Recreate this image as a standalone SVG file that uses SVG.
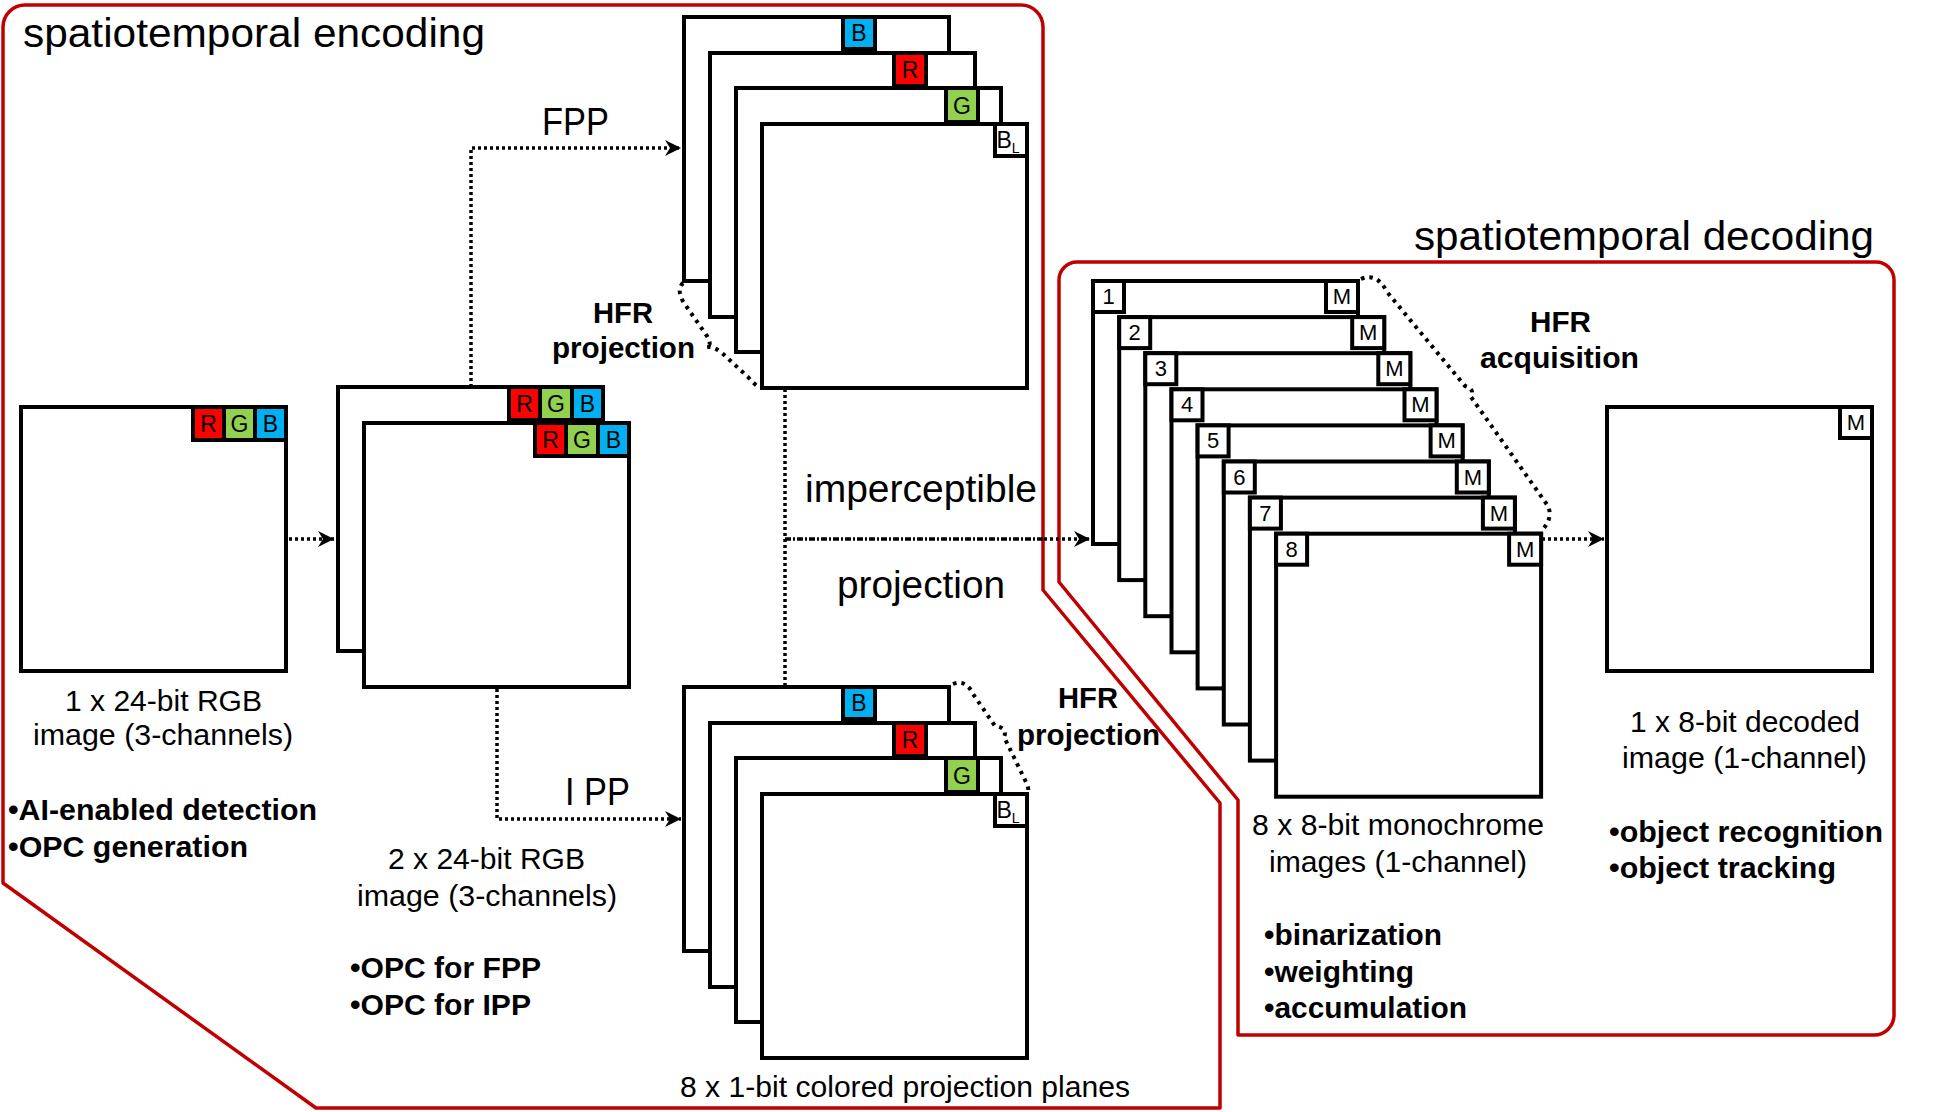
<svg xmlns="http://www.w3.org/2000/svg" width="1944" height="1112" viewBox="0 0 1944 1112">
<style>
text{font-family:"Liberation Sans",Arial,sans-serif;fill:#000}
.reg{font-size:29px}
.bold{font-size:29px;font-weight:bold}
.big{font-size:38px}
.title{font-size:40px}
.cell{font-size:23px;text-anchor:middle}
.small{font-size:22px;text-anchor:middle}
.img{fill:#fff;stroke:#000;stroke-width:4}
.c{stroke:#000;stroke-width:4}
.cw{fill:#fff}
.cr{fill:#ff0000}
.cg{fill:#92d050}
.cb{fill:#00b0f0}
.border{fill:none;stroke:#c00000;stroke-width:3.5;stroke-linejoin:round}
.dot{fill:none;stroke:#000;stroke-width:3.5;stroke-dasharray:3 3}
.dashdot{fill:none;stroke:#000;stroke-width:3.5;stroke-dasharray:6 2 2 2}
.hfr{fill:none;stroke:#000;stroke-width:4;stroke-dasharray:3.5 5;stroke-linecap:butt}
</style>
<defs>
<marker id="arr" markerUnits="userSpaceOnUse" markerWidth="18" markerHeight="18" refX="16" refY="8" orient="auto">
<path d="M0,0 L16,8 L0,16 L5,8 Z" fill="#000"/>
</marker>
</defs>

<g id="borders">
<path class="border" d="M25,5 H1021 A22 22 0 0 1 1043,27 V590 L1220,803 V1108 H316 L3,883 V27 A22 22 0 0 1 25,5 Z"/>
<path class="border" d="M1077,262 H1876 A18 18 0 0 1 1894,280 V1015 A20 20 0 0 1 1874,1035 H1238 V800 L1059,582 V280 A18 18 0 0 1 1077,262 Z"/>
</g>

<g id="titles">
<text class="title" x="23" y="47" textLength="462" lengthAdjust="spacingAndGlyphs">spatiotemporal encoding</text>
<text class="title" x="1414" y="250" textLength="460" lengthAdjust="spacingAndGlyphs">spatiotemporal decoding</text>
</g>

<g id="connectors">
<path class="dot" d="M289,539 H334" marker-end="url(#arr)"/>
<path class="dot" d="M471,387 V148 H681" marker-end="url(#arr)"/>
<path class="dot" d="M497,689 V819 H681" marker-end="url(#arr)"/>
<path class="dot" d="M785,389 V686"/>
<path class="dashdot" d="M785,539 H1044"/>
<path class="dot" d="M1044,539 H1090" marker-end="url(#arr)"/>
<path class="dot" d="M1542,539 H1604" marker-end="url(#arr)"/>
<path class="hfr" d="M683,283 Q676,290 684,303 L707,336 Q713,345 706,347 Q714,346 722,353 L748,377 Q755,385 760,388"/>
<path class="hfr" d="M953,684 Q966,679 973,694 L995,726 Q1008,728 1004,737 L1026,782 Q1029,788 1028,792"/>
<path class="hfr" d="M1361,279 Q1377,272 1387,292 L1465,386 Q1475,389 1471,397 L1548,506 Q1553,518 1543,529"/>
</g>

<g id="node-rgb1">
<rect class="img" x="21" y="407" width="265" height="264"/>
<rect class="c cr" x="193" y="407" width="31" height="33"/>
<rect class="c cg" x="224" y="407" width="31" height="33"/>
<rect class="c cb" x="255" y="407" width="31" height="33"/>
<text class="cell" x="208.5" y="432">R</text>
<text class="cell" x="239.5" y="432">G</text>
<text class="cell" x="270.5" y="432">B</text>
<text class="reg" x="65" y="711" textLength="197" lengthAdjust="spacingAndGlyphs">1 x 24-bit RGB</text>
<text class="reg" x="33" y="745" textLength="260" lengthAdjust="spacingAndGlyphs">image (3-channels)</text>
<text class="bold" x="8" y="820" textLength="309" lengthAdjust="spacingAndGlyphs">•AI-enabled detection</text>
<text class="bold" x="8" y="857" textLength="240" lengthAdjust="spacingAndGlyphs">•OPC generation</text>
</g>

<g id="node-rgb2">
<rect class="img" x="338" y="387" width="265" height="264"/>
<rect class="c cr" x="509" y="387" width="31" height="33"/>
<rect class="c cg" x="540" y="387" width="32" height="33"/>
<rect class="c cb" x="572" y="387" width="31" height="33"/>
<text class="cell" x="524.5" y="412">R</text>
<text class="cell" x="556" y="412">G</text>
<text class="cell" x="587.5" y="412">B</text>
<rect class="img" x="364" y="423" width="265" height="264"/>
<rect class="c cr" x="535" y="423" width="31" height="33"/>
<rect class="c cg" x="566" y="423" width="32" height="33"/>
<rect class="c cb" x="598" y="423" width="31" height="33"/>
<text class="cell" x="550.5" y="448">R</text>
<text class="cell" x="582" y="448">G</text>
<text class="cell" x="613.5" y="448">B</text>
<text class="reg" x="388" y="869" textLength="197" lengthAdjust="spacingAndGlyphs">2 x 24-bit RGB</text>
<text class="reg" x="357" y="906" textLength="260" lengthAdjust="spacingAndGlyphs">image (3-channels)</text>
<text class="bold" x="350" y="978" textLength="191" lengthAdjust="spacingAndGlyphs">•OPC for FPP</text>
<text class="bold" x="350" y="1015" textLength="181" lengthAdjust="spacingAndGlyphs">•OPC for IPP</text>
</g>

<g id="node-fpp">
<rect class="img" x="684" y="17" width="265" height="264"/>
<rect class="c cb" x="843" y="17" width="32" height="32"/>
<text class="cell" x="859" y="41">B</text>
<rect class="img" x="710" y="53" width="265" height="264"/>
<rect class="c cr" x="894" y="53" width="32" height="33"/>
<text class="cell" x="910" y="78">R</text>
<rect class="img" x="736" y="88" width="265" height="264"/>
<rect class="c cg" x="946" y="88" width="32" height="34"/>
<text class="cell" x="962" y="114">G</text>
<rect class="img" x="762" y="124" width="265" height="264"/>
<rect class="c cw" x="995" y="124" width="32" height="32"/>
<text class="cell" x="1008" y="148">B<tspan font-size="14" dy="5">L</tspan></text>
<text class="big" x="542" y="135" textLength="67" lengthAdjust="spacingAndGlyphs">FPP</text>
<text class="bold" x="593" y="323" textLength="60" lengthAdjust="spacingAndGlyphs">HFR</text>
<text class="bold" x="552" y="358" textLength="143" lengthAdjust="spacingAndGlyphs">projection</text>
</g>

<g id="node-ipp">
<rect class="img" x="684" y="687" width="265" height="264"/>
<rect class="c cb" x="843" y="687" width="32" height="32"/>
<text class="cell" x="859" y="711">B</text>
<rect class="img" x="710" y="723" width="265" height="264"/>
<rect class="c cr" x="894" y="723" width="32" height="33"/>
<text class="cell" x="910" y="748">R</text>
<rect class="img" x="736" y="758" width="265" height="264"/>
<rect class="c cg" x="946" y="758" width="32" height="34"/>
<text class="cell" x="962" y="784">G</text>
<rect class="img" x="762" y="794" width="265" height="264"/>
<rect class="c cw" x="995" y="794" width="32" height="32"/>
<text class="cell" x="1008" y="818">B<tspan font-size="14" dy="5">L</tspan></text>
<text class="big" x="565" y="805" textLength="65" lengthAdjust="spacingAndGlyphs">I PP</text>
<text class="bold" x="1058" y="708" textLength="60" lengthAdjust="spacingAndGlyphs">HFR</text>
<text class="bold" x="1017" y="745" textLength="143" lengthAdjust="spacingAndGlyphs">projection</text>
<text class="reg" x="680" y="1097" textLength="450" lengthAdjust="spacingAndGlyphs">8 x 1-bit colored projection planes</text>
</g>

<g id="label-imperceptible">
<text class="big" x="805" y="502" textLength="232" lengthAdjust="spacingAndGlyphs">imperceptible</text>
<text class="big" x="837" y="598" textLength="168" lengthAdjust="spacingAndGlyphs">projection</text>
</g>

<g id="node-mono">
<rect class="img" x="1093" y="281" width="265" height="263"/>
<rect class="c cw" x="1093" y="281" width="31" height="31"/><text class="small" x="1108.5" y="304">1</text>
<rect class="c cw" x="1326" y="281" width="32" height="31"/><text class="small" x="1342" y="304">M</text>
<rect class="img" x="1119.2" y="317.1" width="265" height="263"/>
<rect class="c cw" x="1119.2" y="317.1" width="31" height="31"/><text class="small" x="1134.7" y="340.1">2</text>
<rect class="c cw" x="1352.2" y="317.1" width="32" height="31"/><text class="small" x="1368.2" y="340.1">M</text>
<rect class="img" x="1145.3" y="353.2" width="265" height="263"/>
<rect class="c cw" x="1145.3" y="353.2" width="31" height="31"/><text class="small" x="1160.8" y="376.2">3</text>
<rect class="c cw" x="1378.3" y="353.2" width="32" height="31"/><text class="small" x="1394.3" y="376.2">M</text>
<rect class="img" x="1171.5" y="389.3" width="265" height="263"/>
<rect class="c cw" x="1171.5" y="389.3" width="31" height="31"/><text class="small" x="1187" y="412.3">4</text>
<rect class="c cw" x="1404.5" y="389.3" width="32" height="31"/><text class="small" x="1420.5" y="412.3">M</text>
<rect class="img" x="1197.6" y="425.4" width="265" height="263"/>
<rect class="c cw" x="1197.6" y="425.4" width="31" height="31"/><text class="small" x="1213.1" y="448.4">5</text>
<rect class="c cw" x="1430.6" y="425.4" width="32" height="31"/><text class="small" x="1446.6" y="448.4">M</text>
<rect class="img" x="1223.8" y="461.5" width="265" height="263"/>
<rect class="c cw" x="1223.8" y="461.5" width="31" height="31"/><text class="small" x="1239.3" y="484.5">6</text>
<rect class="c cw" x="1456.8" y="461.5" width="32" height="31"/><text class="small" x="1472.8" y="484.5">M</text>
<rect class="img" x="1249.9" y="497.6" width="265" height="263"/>
<rect class="c cw" x="1249.9" y="497.6" width="31" height="31"/><text class="small" x="1265.4" y="520.6">7</text>
<rect class="c cw" x="1482.9" y="497.6" width="32" height="31"/><text class="small" x="1498.9" y="520.6">M</text>
<rect class="img" x="1276.1" y="533.7" width="265" height="263"/>
<rect class="c cw" x="1276.1" y="533.7" width="31" height="31"/><text class="small" x="1291.6" y="556.7">8</text>
<rect class="c cw" x="1509.1" y="533.7" width="32" height="31"/><text class="small" x="1525.1" y="556.7">M</text>
<text class="bold" x="1530" y="332" textLength="61" lengthAdjust="spacingAndGlyphs">HFR</text>
<text class="bold" x="1480" y="368" textLength="159" lengthAdjust="spacingAndGlyphs">acquisition</text>
<text class="reg" x="1252" y="835" textLength="292" lengthAdjust="spacingAndGlyphs">8 x 8-bit monochrome</text>
<text class="reg" x="1269" y="872" textLength="258" lengthAdjust="spacingAndGlyphs">images (1-channel)</text>
<text class="bold" x="1264" y="945" textLength="178" lengthAdjust="spacingAndGlyphs">•binarization</text>
<text class="bold" x="1264" y="982" textLength="150" lengthAdjust="spacingAndGlyphs">•weighting</text>
<text class="bold" x="1264" y="1018" textLength="203" lengthAdjust="spacingAndGlyphs">•accumulation</text>
</g>

<g id="node-decoded">
<rect class="img" x="1607" y="407" width="265" height="264"/>
<rect class="c cw" x="1840" y="407" width="32" height="31"/><text class="small" x="1856" y="430">M</text>
<text class="reg" x="1630" y="732" textLength="230" lengthAdjust="spacingAndGlyphs">1 x 8-bit decoded</text>
<text class="reg" x="1622" y="768" textLength="245" lengthAdjust="spacingAndGlyphs">image (1-channel)</text>
<text class="bold" x="1609" y="842" textLength="274" lengthAdjust="spacingAndGlyphs">•object recognition</text>
<text class="bold" x="1609" y="878" textLength="227" lengthAdjust="spacingAndGlyphs">•object tracking</text>
</g>
</svg>
